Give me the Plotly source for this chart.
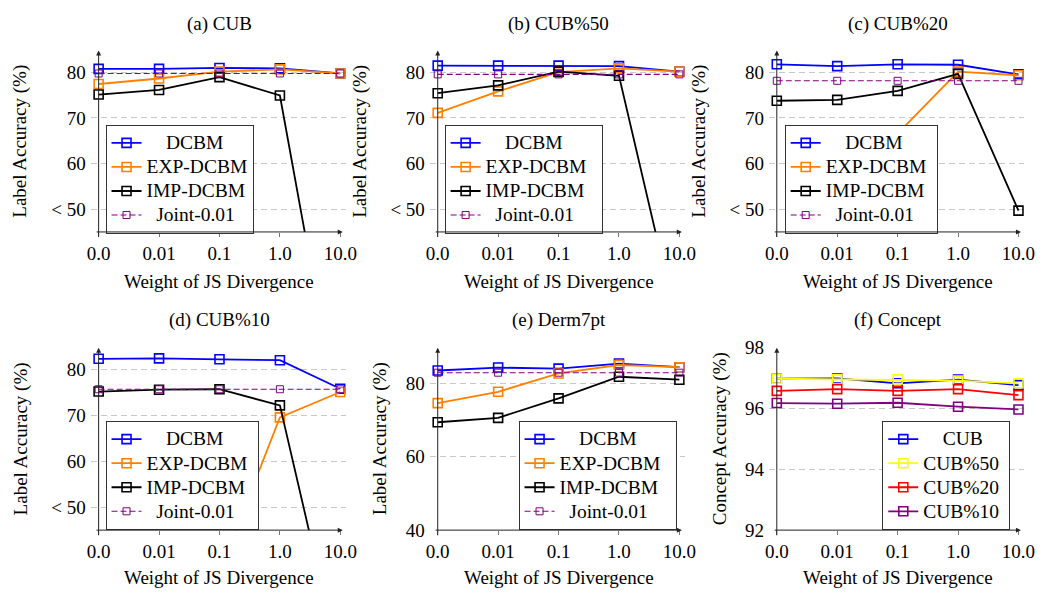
import plotly.graph_objects as go

# ---------------- data ----------------
x_labels = ["0.0", "0.01", "0.1", "1.0", "10.0"]
x_pos = [0, 1, 2, 3, 4]

# (a) CUB
cub_dcbm = [80.7, 80.7, 80.9, 80.8, 79.7]
cub_exp = [77.4, 78.6, 80.1, 80.6, 79.7]
cub_imp = [75.1, 76.1, 78.9, 74.9, 2.5]
cub_joint = [79.7, 79.7, 79.7, 79.7, 79.7]

# (b) CUB%50
cub50_dcbm = [81.4, 81.4, 81.4, 81.3, 80.1]
cub50_exp = [71.1, 75.8, 80.0, 80.8, 80.1]
cub50_imp = [75.4, 77.1, 80.1, 79.2, 22.8]
cub50_joint = [79.5, 79.5, 79.5, 79.5, 79.5]

# (c) CUB%20
cub20_dcbm = [81.7, 81.3, 81.7, 81.6, 79.5]
cub20_exp = [30.0, 41.7, 66.6, 80.1, 79.3]
cub20_imp = [73.75, 73.95, 75.9, 79.6, 49.8]
cub20_joint = [78.1, 78.1, 78.1, 78.1, 78.1]

# (d) CUB%10
cub10_dcbm = [82.3, 82.4, 82.2, 82.0, 75.8]
cub10_exp = [25.0, 28.0, 36.0, 69.6, 75.1]
cub10_imp = [75.2, 75.6, 75.7, 72.2, 15.8]
cub10_joint = [75.7, 75.7, 75.7, 75.7, 75.7]

# (e) Derm7pt
derm_dcbm = [83.5, 84.3, 84.0, 85.4, 84.4]
derm_exp = [74.6, 77.7, 82.7, 85.0, 84.4]
derm_imp = [69.4, 70.6, 75.9, 81.8, 81.0]
derm_joint = [82.9, 82.9, 82.9, 82.9, 82.9]

# (f) Concept accuracy
concept_cub = [96.98, 96.99, 96.83, 96.95, 96.77]
concept_cub50 = [96.98, 96.96, 96.96, 96.92, 96.83]
concept_cub20 = [96.58, 96.64, 96.58, 96.64, 96.44]
concept_cub10 = [96.18, 96.16, 96.19, 96.06, 95.97]

label_series = ["DCBM", "EXP-DCBM", "IMP-DCBM", "Joint-0.01"]
concept_series = ["CUB", "CUB%50", "CUB%20", "CUB%10"]

label_ticks = [50, 60, 70, 80]
label_ticktext = ["< 50", "60", "70", "80"]
derm_ticks = [40, 60, 80]
concept_ticks = [92, 94, 96, 98]

# ---------------- style ----------------
W, H = 1050, 600
FAM = "Liberation Serif"
FONT = "Liberation Serif, Times New Roman, serif"
FS = 19
LFS = 16.2      # legend font size used for row spacing
LTXT = 19.5     # visible legend text size
BLUE, ORANGE, BLACK, PURPLE = "#0000FF", "#FF8000", "#000000", "#800080"
YELLOW, RED = "#FFFF00", "#FF0000"

NBSP = "\u00a0"


def serif(txt, size=FS):
    return f'<span style="font-family:{FAM};font-size:{size}px">{txt}</span>'


panels = [
    dict(title="(a) CUB", ys=[cub_dcbm, cub_exp, cub_imp, cub_joint], names=label_series,
         colors=[BLUE, ORANGE, BLACK, PURPLE], joint=True, ax_px=96, top_px=42, bot_px=230,
         yr=[45.15, 84.7], tv=label_ticks, tt=label_ticktext, ytitle="Label Accuracy (%)",
         ytitle_x=16.7, leg=(103, 119), tail=0),
    dict(title="(b) CUB%50", ys=[cub50_dcbm, cub50_exp, cub50_imp, cub50_joint], names=label_series,
         colors=[BLUE, ORANGE, BLACK, PURPLE], joint=True, ax_px=440, top_px=42, bot_px=230,
         yr=[45.15, 84.7], tv=label_ticks, tt=label_ticktext, ytitle="Label Accuracy (%)",
         ytitle_x=361.7, leg=(447, 119), tail=2),
    dict(title="(c) CUB%20", ys=[cub20_dcbm, cub20_exp, cub20_imp, cub20_joint], names=label_series,
         colors=[BLUE, ORANGE, BLACK, PURPLE], joint=True, ax_px=784, top_px=42, bot_px=230,
         yr=[45.15, 84.7], tv=label_ticks, tt=label_ticktext, ytitle="Label Accuracy (%)",
         ytitle_x=705.5, leg=(792, 119), tail=1),
    dict(title="(d) CUB%10", ys=[cub10_dcbm, cub10_exp, cub10_imp, cub10_joint], names=label_series,
         colors=[BLUE, ORANGE, BLACK, PURPLE], joint=True, ax_px=96, top_px=350, bot_px=539,
         yr=[45.15, 84.7], tv=label_ticks, tt=label_ticktext, ytitle="Label Accuracy (%)",
         ytitle_x=16.7, leg=(103, 426), tail=1),
    dict(title="(e) Derm7pt", ys=[derm_dcbm, derm_exp, derm_imp, derm_joint], names=label_series,
         colors=[BLUE, ORANGE, BLACK, PURPLE], joint=True, ax_px=440, top_px=350, bot_px=539,
         yr=[40, 89.7], tv=derm_ticks, tt=[str(v) for v in derm_ticks], ytitle="Label Accuracy (%)",
         ytitle_x=381.7, leg=(522, 426), tail=2),
    dict(title="(f) Concept", ys=[concept_cub, concept_cub50, concept_cub20, concept_cub10],
         names=concept_series, colors=[BLUE, YELLOW, RED, PURPLE], joint=False, ax_px=784,
         top_px=350, bot_px=539, yr=[92, 98], tv=concept_ticks, tt=[str(v) for v in concept_ticks],
         ytitle="Concept Accuracy (%)", ytitle_x=726.7, leg=(891, 426), tail=1),
]

PX_PER_UNIT = 61.3
XR = [-0.13, 4.09]


def legend_label(name, group, tail):
    if group == "label":
        padn = {"DCBM": 4, "EXP-DCBM": 0, "IMP-DCBM": 0, "Joint-0.01": 2}[name]
    else:
        padn = {"CUB": 4}.get(name, 0)
    return serif(NBSP * padn + name + NBSP * tail, LTXT)


fig = go.Figure()
layout = dict(width=W, height=H, margin=dict(l=0, r=0, t=0, b=0),
              paper_bgcolor="white", plot_bgcolor="white",
              font=dict(family=FONT, size=FS, color="black"), annotations=[])

for i, p in enumerate(panels, start=1):
    xa = "x" if i == 1 else f"x{i}"
    ya = "y" if i == 1 else f"y{i}"
    xk = "xaxis" if i == 1 else f"xaxis{i}"
    yk = "yaxis" if i == 1 else f"yaxis{i}"
    lk = "legend" if i == 1 else f"legend{i}"

    left_px = p["ax_px"] + XR[0] * PX_PER_UNIT
    right_px = p["ax_px"] + XR[1] * PX_PER_UNIT
    layout[xk] = dict(domain=[left_px / W, right_px / W], range=XR, anchor=ya,
                      tickvals=x_pos, ticktext=[serif(t) for t in x_labels], showgrid=False,
                      zeroline=False, showline=False, ticks="outside", ticklen=4, tickcolor="#777",
                      tickfont=dict(family=FONT, size=FS, color="black"))
    layout[yk] = dict(domain=[1 - p["bot_px"] / H, 1 - p["top_px"] / H], range=p["yr"], anchor=xa,
                      tickvals=p["tv"], ticktext=[serif(t) for t in p["tt"]], showgrid=True,
                      gridcolor="#c8c8c8", griddash="6px,4px", gridwidth=1, zeroline=False,
                      showline=False, ticks="", ticklabelstandoff=4,
                      tickfont=dict(family=FONT, size=FS, color="black"))
    lx, ly = p["leg"]
    layout[lk] = dict(x=lx / W, y=1 - ly / H, xanchor="left", yanchor="top",
                      bgcolor="white", bordercolor="#333", borderwidth=1,
                      font=dict(family=FONT, size=LFS, color="black"),
                      itemclick=False)

    group = "label" if p["joint"] else "concept"
    for k, (yv, nm, col) in enumerate(zip(p["ys"], p["names"], p["colors"])):
        is_joint = p["joint"] and k == 3
        fig.add_trace(go.Scatter(
            x=x_pos, y=yv, name=legend_label(nm, group, p["tail"]), xaxis=xa, yaxis=ya, legend=lk,
            mode="lines+markers",
            line=dict(color=col, width=1.1 if is_joint else 1.8, dash="6px,3px" if is_joint else "solid"),
            marker=dict(symbol="square-open", size=7 if is_joint else 9,
                        color=col, line=dict(color=col, width=1 if is_joint else 1.6)),
            showlegend=True,
        ))

    # axis lines with arrow heads
    plot_h = p["bot_px"] - p["top_px"]
    tip_x = 4.04
    layout["annotations"].append(dict(
        x=tip_x, y=0, xref=xa, yref=f"{ya} domain", ax=-tip_x * PX_PER_UNIT, ay=0,
        axref="pixel", ayref="pixel", text="", showarrow=True, arrowhead=2, arrowsize=1,
        arrowwidth=1, arrowcolor="#222", standoff=0, startstandoff=0))
    layout["annotations"].append(dict(
        x=0, y=1, xref=xa, yref=f"{ya} domain", ax=0, ay=plot_h,
        axref="pixel", ayref="pixel", text="", showarrow=True, arrowhead=2, arrowsize=1,
        arrowwidth=1, arrowcolor="#222", standoff=0, startstandoff=0))

    cx = (p["ax_px"] + p["ax_px"] + 4 * PX_PER_UNIT) / 2
    title_y = 15 if p["top_px"] < 300 else 321.7
    xt_y = 281.7 if p["top_px"] < 300 else 588
    layout["annotations"].append(dict(
        x=cx / W, y=1 - title_y / H, xref="paper", yref="paper", text=serif(p["title"]),
        showarrow=False, xanchor="center", yanchor="middle", font=dict(family=FONT, size=FS)))
    layout["annotations"].append(dict(
        x=cx / W, y=1 - xt_y / H, xref="paper", yref="paper", text=serif("Weight of JS Divergence"),
        showarrow=False, xanchor="center", yanchor="middle", font=dict(family=FONT, size=FS)))
    layout["annotations"].append(dict(
        x=p["ytitle_x"] / W, y=1 - (p["top_px"] + p["bot_px"]) / 2 / H, xref="paper", yref="paper",
        text=serif(p["ytitle"]), textangle=-90, showarrow=False, xanchor="center", yanchor="middle",
        font=dict(family=FONT, size=FS)))

fig.update_layout(**layout)
fig.write_html("out.html")
